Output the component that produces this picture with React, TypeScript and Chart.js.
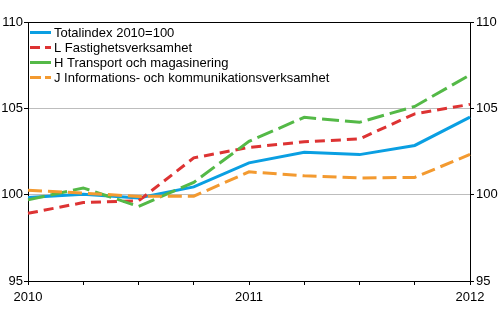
import React, { useEffect, useRef } from "react";
import { Chart, registerables } from "chart.js";

Chart.register(...registerables);

const categories = ["2010Q1", "2010Q2", "2010Q3", "2010Q4", "2011Q1", "2011Q2", "2011Q3", "2011Q4", "2012Q1"];
const totalindex = [99.84, 100.02, 99.81, 100.45, 101.84, 102.45, 102.32, 102.85, 104.49];
const fastighet = [98.92, 99.54, 99.64, 102.13, 102.74, 103.06, 103.23, 104.68, 105.23];
const transport = [99.7, 100.39, 99.32, 100.71, 103.09, 104.48, 104.19, 105.11, 106.94];
const information = [100.25, 100.09, 99.9, 99.91, 101.32, 101.09, 100.97, 101.0, 102.33];
const seriesNames = [
  "Totalindex 2010=100",
  "L Fastighetsverksamhet",
  "H Transport och magasinering",
  "J Informations- och kommunikationsverksamhet",
];
const yTicks = [95, 100, 105, 110];

const FONT = "'Liberation Sans', Arial, sans-serif";

const insideLegend = {
  id: "insideLegend",
  afterDraw(chart: any) {
    const { ctx, chartArea } = chart;
    ctx.save();
    chart.data.datasets.forEach((ds: any, i: number) => {
      const y = chartArea.top + 10.5 + i * 15;
      ctx.beginPath();
      ctx.strokeStyle = ds.borderColor;
      ctx.lineWidth = 3;
      ctx.setLineDash(ds.legendDash || []);
      ctx.moveTo(chartArea.left + 2, y);
      ctx.lineTo(chartArea.left + 23, y);
      ctx.stroke();
      ctx.setLineDash([]);
      ctx.fillStyle = "#000";
      ctx.font = `13px ${FONT}`;
      ctx.textBaseline = "middle";
      ctx.textAlign = "left";
      ctx.fillText(ds.label, chartArea.left + 26, y + 0.5);
    });
    ctx.restore();
  },
};

export default function App() {
  const ref = useRef<HTMLCanvasElement>(null);
  useEffect(() => {
    document.body.style.margin = "0";
    const chart = new Chart(ref.current!, {
      type: "line",
      data: {
        labels: categories,
        datasets: [
          { label: seriesNames[0], data: totalindex, borderColor: "#0a9fe2", borderWidth: 3, order: 4, legendDash: [] } as any,
          { label: seriesNames[1], data: fastighet, borderColor: "#dd3333", borderWidth: 3, borderDash: [10, 6], order: 3, legendDash: [10, 5] } as any,
          { label: seriesNames[2], data: transport, borderColor: "#54b947", borderWidth: 3, borderDash: [17, 6], order: 2, legendDash: [] } as any,
          { label: seriesNames[3], data: information, borderColor: "#f39a30", borderWidth: 3, borderDash: [14, 6], order: 1, legendDash: [11, 4] } as any,
        ],
      },
      options: {
        animation: false,
        responsive: true,
        maintainAspectRatio: false,
        layout: { padding: { top: 22 } },
        elements: { point: { radius: 0 }, line: { tension: 0 } },
        plugins: { legend: { display: false }, tooltip: { enabled: false } },
        scales: {
          x: {
            offset: false,
            grid: { drawOnChartArea: false, tickLength: 4, color: "#000", tickColor: "#000" },
            border: { color: "#000", width: 1 },
            ticks: {
              autoSkip: false,
              maxRotation: 0,
              padding: 5,
              color: "#000",
              font: { family: FONT, size: 13 },
              callback: (_v: any, i: number) => (categories[i].endsWith("Q1") ? categories[i].slice(0, 4) : ""),
            },
            afterFit: (s: any) => { s.height = 49; },
          },
          y: {
            min: 95,
            max: 110,
            afterBuildTicks: (s: any) => { s.ticks = yTicks.map((v) => ({ value: v })); },
            grid: {
              tickLength: 4,
              tickColor: "#000",
              color: (c: any) => (c.tick && c.tick.value === 110 ? "#000" : c.tick && c.tick.value === 95 ? "rgba(0,0,0,0)" : "#bdbdbd"),
            },
            border: { color: "#000", width: 1 },
            ticks: { padding: 1, color: "#000", font: { family: FONT, size: 13 } },
            afterFit: (s: any) => { s.width = 28; },
          },
          y2: {
            position: "right",
            min: 95,
            max: 110,
            afterBuildTicks: (s: any) => { s.ticks = yTicks.map((v) => ({ value: v })); },
            grid: { drawOnChartArea: false, tickLength: 4, tickColor: "#000", color: "#000" },
            border: { color: "#000", width: 1 },
            ticks: { padding: 2, color: "#000", font: { family: FONT, size: 13 } },
            afterFit: (s: any) => { s.width = 30; },
          },
        },
      },
      plugins: [insideLegend],
    } as any);
    return () => chart.destroy();
  }, []);
  return (
    <div style={{ width: 500, height: 330, position: "relative" }}>
      <canvas ref={ref} />
    </div>
  );
}
